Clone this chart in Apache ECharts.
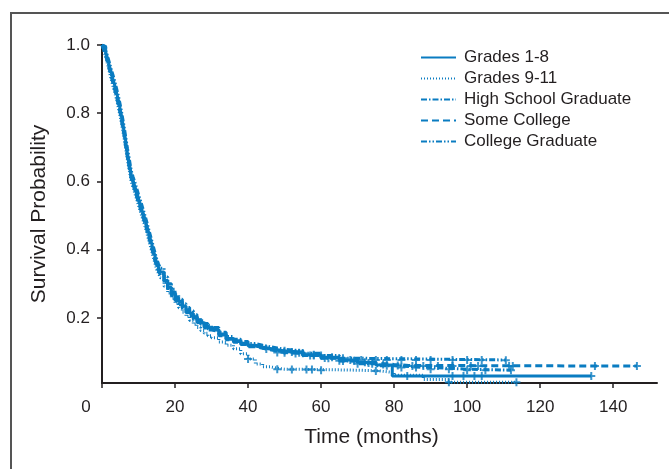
<!DOCTYPE html>
<html>
<head>
<meta charset="utf-8">
<script src="https://cdn.jsdelivr.net/npm/echarts@6/dist/echarts.min.js"></script>
<style>
  html, body { margin: 0; padding: 0; background: #fff; }
  #chart { width: 669px; height: 469px; }
</style>
</head>
<body>
<div id="chart"></div>
<script>
// survival curves (Kaplan-Meier steps)
var groups = ['Grades 1-8', 'Grades 9-11', 'High School Graduate', 'Some College', 'College Graduate']

// months where the early readings were taken
var early = [0, 0.5, 1, 1.5, 2, 2.5, 3, 3.5, 4, 4.5, 5, 5.5, 6, 6.5, 7, 7.5, 8, 8.5, 9, 9.5, 10, 10.5, 11, 11.5, 12, 12.5, 13, 13.5, 14, 14.5, 15, 15.5, 16,
  17, 18, 19, 20, 21, 22, 23, 24, 25, 26, 27, 28, 29, 30,
  32, 34, 36, 38, 40, 42, 44, 46, 48, 50]

var g18Time = early.concat([55, 60, 65, 70, 75, 79.5, 134])
var g18Surv = [1.0, 0.995, 0.98, 0.962, 0.94, 0.922, 0.9, 0.882, 0.86, 0.838, 0.81, 0.782, 0.75, 0.718, 0.68, 0.652, 0.62, 0.604, 0.585, 0.57, 0.55, 0.534, 0.515, 0.5, 0.48, 0.462, 0.44, 0.422, 0.4, 0.382, 0.36, 0.348, 0.335,
  0.31, 0.29, 0.275, 0.26, 0.248, 0.235, 0.224, 0.214, 0.204, 0.194, 0.186, 0.178, 0.171, 0.166,
  0.153, 0.14, 0.133, 0.126, 0.12, 0.115, 0.111, 0.107, 0.103, 0.1,
  0.092, 0.085, 0.077, 0.07, 0.062, 0.03, 0.03]
var g18Cens = [52, 58, 63, 68, 72, 83.6, 96, 99, 102, 104, 134]

var g911Time = early.concat([60, 70, 76, 80, 88, 95, 113.5])
var g911Surv = [1.0, 0.985, 0.965, 0.945, 0.922, 0.9, 0.88, 0.86, 0.84, 0.815, 0.79, 0.76, 0.73, 0.695, 0.66, 0.63, 0.6, 0.582, 0.565, 0.548, 0.53, 0.512, 0.495, 0.478, 0.46, 0.44, 0.42, 0.4, 0.38, 0.36, 0.342, 0.33, 0.318,
  0.293, 0.273, 0.258, 0.243, 0.23, 0.217, 0.205, 0.193, 0.182, 0.172, 0.163, 0.155, 0.148, 0.142,
  0.13, 0.12, 0.11, 0.095, 0.08, 0.065, 0.057, 0.053, 0.05, 0.049,
  0.047, 0.045, 0.04, 0.032, 0.02, 0.012, 0.012]
var g911Cens = [40, 48, 52, 56, 57.5, 60, 75, 95, 113.5]

var hsTime = early.concat([55, 60, 65, 70, 75, 80, 90, 100, 112])
var hsSurv = [1.0, 0.99, 0.975, 0.955, 0.935, 0.915, 0.895, 0.875, 0.855, 0.83, 0.805, 0.775, 0.745, 0.71, 0.675, 0.645, 0.615, 0.597, 0.58, 0.562, 0.545, 0.527, 0.51, 0.492, 0.475, 0.455, 0.435, 0.415, 0.395, 0.375, 0.355, 0.342, 0.33,
  0.305, 0.285, 0.27, 0.255, 0.243, 0.23, 0.22, 0.21, 0.2, 0.19, 0.182, 0.174, 0.168, 0.163,
  0.15, 0.138, 0.131, 0.124, 0.118, 0.113, 0.109, 0.105, 0.101, 0.098,
  0.09, 0.082, 0.074, 0.066, 0.06, 0.055, 0.05, 0.047, 0.047]
var hsCens = [45, 50, 54, 58, 62, 66, 70, 74, 78, 82, 86, 90, 95, 100, 105, 112]

var scTime = early.concat([55, 60, 65, 70, 75, 80, 84, 146.5])
var scSurv = [1.0, 0.985, 0.97, 0.948, 0.93, 0.908, 0.888, 0.868, 0.848, 0.822, 0.798, 0.768, 0.738, 0.702, 0.668, 0.638, 0.608, 0.59, 0.574, 0.555, 0.538, 0.52, 0.503, 0.486, 0.468, 0.448, 0.428, 0.408, 0.388, 0.368, 0.35, 0.337, 0.325,
  0.3, 0.28, 0.266, 0.251, 0.239, 0.226, 0.216, 0.206, 0.196, 0.187, 0.179, 0.171, 0.165, 0.16,
  0.148, 0.136, 0.129, 0.122, 0.116, 0.111, 0.107, 0.103, 0.099, 0.096,
  0.09, 0.083, 0.075, 0.068, 0.064, 0.061, 0.059, 0.059]
var scCens = [48, 53, 57, 61, 65, 69, 73, 77, 81, 85, 88, 92, 96, 101, 103, 111.5, 112.5, 135, 146.5]

var cgTime = early.concat([55, 60, 65, 70, 110.6])
var cgSurv = [1.0, 0.995, 0.985, 0.968, 0.95, 0.93, 0.912, 0.893, 0.872, 0.85, 0.825, 0.795, 0.765, 0.73, 0.695, 0.665, 0.632, 0.614, 0.598, 0.58, 0.562, 0.545, 0.528, 0.51, 0.492, 0.472, 0.452, 0.432, 0.412, 0.392, 0.372, 0.358, 0.346,
  0.32, 0.3, 0.284, 0.268, 0.255, 0.242, 0.231, 0.221, 0.21, 0.2, 0.192, 0.184, 0.178, 0.172,
  0.158, 0.146, 0.138, 0.131, 0.125, 0.12, 0.116, 0.112, 0.108, 0.104,
  0.097, 0.09, 0.082, 0.077, 0.076]
var cgCens = [50, 55, 60, 66, 71, 75, 78, 82, 86, 90, 96, 100, 104, 110.6]

var xTicks = [0, 20, 40, 60, 80, 100, 120, 140]
var yTicks = [0.2, 0.4, 0.6, 0.8, 1.0]

var blue = '#0a7cc1'
var ink = '#231f20'
var dashes = ['solid', [1, 2], [6, 2, 1.5, 2], [7, 4], [6, 2, 1.5, 2, 1.5, 2]]
var times = [g18Time, g911Time, hsTime, scTime, cgTime]
var survs = [g18Surv, g911Surv, hsSurv, scSurv, cgSurv]
var cens = [g18Cens, g911Cens, hsCens, scCens, cgCens]

function survAt(t, ts, vs) {
  var v = vs[0]
  for (var i = 0; i < ts.length; i++) {
    if (ts[i] <= t) v = vs[i]
  }
  return v
}

var plus = 'path://M3,0H5V3H8V5H5V8H3V5H0V3H3Z'
var series = []
for (var g = 0; g < groups.length; g++) {
  var pts = []
  for (var i = 0; i < times[g].length; i++) pts.push([times[g][i], survs[g][i]])
  series.push({
    name: groups[g],
    type: 'line',
    step: 'end',
    data: pts,
    showSymbol: false,
    symbol: 'none',
    lineStyle: { color: blue, width: 3, type: dashes[g] },
    itemStyle: { color: blue },
    silent: true
  })
  var cp = []
  for (var k = 0; k < cens[g].length; k++) cp.push([cens[g][k], survAt(cens[g][k], times[g], survs[g])])
  series.push({
    name: groups[g] + ' censored',
    type: 'scatter',
    data: cp,
    symbol: plus,
    symbolSize: 8,
    itemStyle: { color: blue },
    silent: true
  })
}

var chart = echarts.init(document.getElementById('chart'))
chart.setOption({
  animation: false,
  backgroundColor: '#fff',
  textStyle: { fontFamily: 'Liberation Sans' },
  graphic: [{
    type: 'rect',
    shape: { x: 11, y: 13, width: 800, height: 600 },
    style: { fill: null, stroke: '#555', lineWidth: 2 },
    z: -10
  }],
  grid: { left: 102, right: 12, top: 45, bottom: 86 },
  legend: {
    data: groups,
    orient: 'vertical',
    left: 420,
    top: 49,
    padding: 0,
    itemWidth: 35,
    itemHeight: 14,
    itemGap: 4,
    itemStyle: { opacity: 0 },
    lineStyle: { width: 2 },
    textStyle: { fontSize: 17, color: ink, fontFamily: 'Liberation Sans', lineHeight: 16, padding: [0, 0, 0, 3] },
    selectedMode: false
  },
  xAxis: {
    type: 'value',
    min: 0,
    max: 152,
    name: 'Time (months)',
    nameLocation: 'middle',
    nameGap: 44,
    nameTextStyle: { fontSize: 21, color: ink, padding: [0, 16, 0, 0] },
    splitLine: { show: false },
    axisLine: { lineStyle: { color: ink, width: 2 } },
    axisTick: { show: true, length: 5, customValues: xTicks, lineStyle: { color: ink, width: 1.5 } },
    axisLabel: {
      customValues: xTicks,
      fontSize: 17,
      color: ink,
      margin: 16,
      formatter: function (v) { return v === 0 ? '{z|0}' : String(v) },
      rich: { z: { fontSize: 17, color: ink, fontFamily: 'Liberation Sans', padding: [0, 32, 0, 0] } }
    }
  },
  yAxis: {
    type: 'value',
    min: 0.0095,
    max: 1.0,
    name: 'Survival Probability',
    nameLocation: 'middle',
    nameGap: 52,
    nameTextStyle: { fontSize: 21, color: ink },
    splitLine: { show: false },
    axisLine: { show: true, lineStyle: { color: ink, width: 2 } },
    axisTick: { show: true, length: 5, customValues: yTicks, lineStyle: { color: ink, width: 1.5 } },
    axisLabel: {
      customValues: yTicks,
      fontSize: 17,
      color: ink,
      margin: 12,
      formatter: function (v) { return v.toFixed(1) }
    }
  },
  series: series
})
</script>
</body>
</html>
